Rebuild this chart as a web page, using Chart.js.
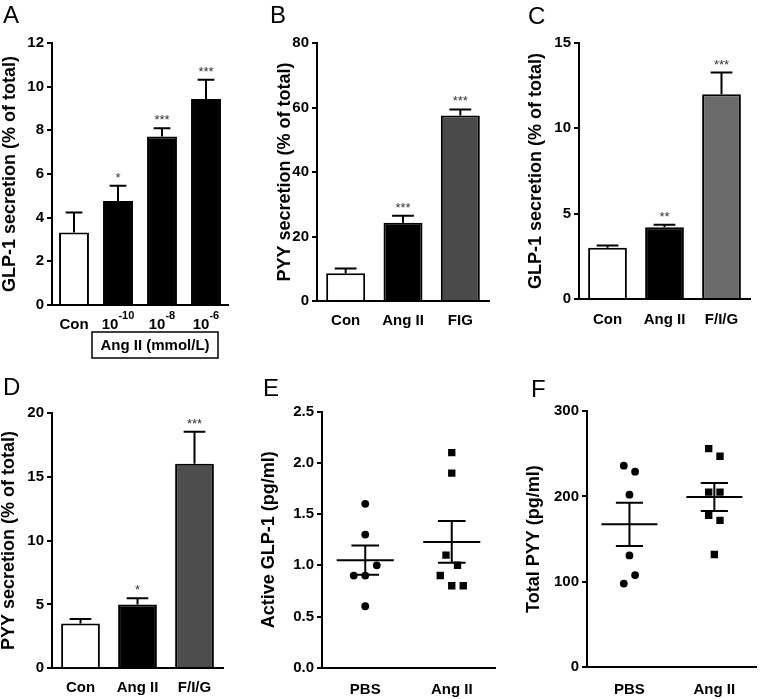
<!DOCTYPE html>
<html>
<head>
<meta charset="utf-8">
<script src="https://cdn.jsdelivr.net/npm/chart.js@4.4.1/dist/chart.umd.min.js"></script>
<style>
body{margin:0;background:#fff;}
#wrap{position:relative;width:762px;height:699px;}
#wrap canvas{position:absolute;left:0;top:0;}
</style>
</head>
<body>
<div id="wrap">
<canvas id="cA" width="762" height="699"></canvas>
<canvas id="cB" width="762" height="699"></canvas>
<canvas id="cC" width="762" height="699"></canvas>
<canvas id="cD" width="762" height="699"></canvas>
<canvas id="cE" width="762" height="699"></canvas>
<canvas id="cF" width="762" height="699"></canvas>
</div>
<script>
// A: GLP-1 secretion, Ang II doses
var catsA = ['Con', '10^-10', '10^-8', '10^-6'];
var meanA = [3.32, 4.76, 7.72, 9.43];
var semA = [0.92, 0.7, 0.38, 0.89];
var starsA = ['', '*', '***', '***'];
var ticksA = [0, 2, 4, 6, 8, 10, 12];

// B: PYY secretion
var catsB = ['Con', 'Ang II', 'FIG'];
var meanB = [8.6, 24.3, 57.5];
var semB = [1.5, 2.1, 1.9];
var starsB = ['', '***', '***'];
var ticksB = [0, 20, 40, 60, 80];

// C: GLP-1 secretion
var catsC = ['Con', 'Ang II', 'F/I/G'];
var meanC = [3.0, 4.2, 12.0];
var semC = [0.13, 0.15, 1.27];
var starsC = ['', '**', '***'];
var ticksC = [0, 5, 10, 15];

// D: PYY secretion
var catsD = ['Con', 'Ang II', 'F/I/G'];
var meanD = [3.5, 5.0, 16.0];
var semD = [0.35, 0.48, 2.5];
var starsD = ['', '*', '***'];
var ticksD = [0, 5, 10, 15, 20];

// E: active GLP-1, individual animals
var groupsE = ['PBS', 'Ang II'];
var pbsE = [1.6, 1.3, 0.9, 0.9, 1.0, 0.6];
var angE = [2.1, 1.9, 1.1, 1.0, 0.9, 0.8, 0.8];
var ticksE = [0, 0.5, 1.0, 1.5, 2.0, 2.5];

// F: total PYY, individual animals
var groupsF = ['PBS', 'Ang II'];
var pbsF = [236, 229, 202, 131, 98, 108];
var angF = [256, 247, 205, 205, 178, 172, 132];
var ticksF = [0, 100, 200, 300];

var FONT = "'Liberation Sans', Arial, Helvetica, sans-serif";
var XH = 30;
Chart.defaults.font.family = FONT;
Chart.defaults.color = '#000';
Chart.defaults.animation = false;
Chart.defaults.plugins.legend.display = false;
Chart.defaults.plugins.tooltip.enabled = false;

// error bars (upward only) + significance stars
var barDeco = {
	id: 'barDeco',
	afterDatasetsDraw: function(chart){
		var ctx = chart.ctx, ds = chart.data.datasets[0];
		var meta = chart.getDatasetMeta(0), ys = chart.scales.y;
		ctx.save();
		ctx.strokeStyle = '#000';
		ctx.lineWidth = 2;
		meta.data.forEach(function(bar, i){
			var top = ys.getPixelForValue(ds.data[i] + ds.sem[i]);
			var half = bar.width * 0.28;
			ctx.beginPath();
			ctx.moveTo(bar.x, bar.y);
			ctx.lineTo(bar.x, top);
			ctx.moveTo(bar.x - half, top);
			ctx.lineTo(bar.x + half, top);
			ctx.stroke();
			if (ds.stars[i]) {
				ctx.fillStyle = '#333';
				ctx.font = '13px ' + FONT;
				ctx.textAlign = 'center';
				ctx.textBaseline = 'alphabetic';
				ctx.fillText(ds.stars[i], bar.x, top - 4);
			}
		});
		ctx.restore();
	}
};

// mean +/- SEM lines for the dot plots
var meanSem = {
	id: 'meanSem',
	afterDatasetsDraw: function(chart){
		var ctx = chart.ctx, xs = chart.scales.x, ys = chart.scales.y;
		ctx.save();
		ctx.strokeStyle = '#000';
		ctx.lineWidth = 2;
		chart.data.datasets.forEach(function(ds){
			var v = ds.values, n = v.length;
			var m = v.reduce(function(a, b){ return a + b; }, 0) / n;
			var ss = v.reduce(function(a, b){ return a + (b - m) * (b - m); }, 0);
			var sem = Math.sqrt(ss / (n - 1)) / Math.sqrt(n);
			var g = ds.group;
			var yM = ys.getPixelForValue(m), yH = ys.getPixelForValue(m + sem), yL = ys.getPixelForValue(m - sem);
			ctx.beginPath();
			ctx.moveTo(xs.getPixelForValue(g - 0.33), yM);
			ctx.lineTo(xs.getPixelForValue(g + 0.33), yM);
			ctx.moveTo(xs.getPixelForValue(g), yH);
			ctx.lineTo(xs.getPixelForValue(g), yL);
			ctx.moveTo(xs.getPixelForValue(g - 0.16), yH);
			ctx.lineTo(xs.getPixelForValue(g + 0.16), yH);
			ctx.moveTo(xs.getPixelForValue(g - 0.16), yL);
			ctx.lineTo(xs.getPixelForValue(g + 0.16), yL);
			ctx.stroke();
		});
		ctx.restore();
	}
};

// panel letter, plus the A-specific x labels and dose box
var extras = {
	id: 'extras',
	afterDraw: function(chart, args, o){
		var ctx = chart.ctx;
		ctx.save();
		ctx.fillStyle = '#000';
		ctx.textBaseline = 'alphabetic';
		ctx.font = '24px ' + FONT;
		ctx.textAlign = 'left';
		ctx.fillText(o.letter, o.lx, o.ly);
		if (o.powLabels) {
			var xs = chart.scales.x, y0 = xs.top;
			chart.data.labels.forEach(function(lab, i){
				var parts = lab.split('^');
				var cx = xs.getPixelForValue(i);
				ctx.font = 'bold 15px ' + FONT;
				var w1 = ctx.measureText(parts[0]).width, w2 = 0;
				if (parts[1]) {
					ctx.font = 'bold 11px ' + FONT;
					w2 = ctx.measureText(parts[1]).width;
				}
				var x0 = cx - (w1 + w2) / 2;
				ctx.font = 'bold 15px ' + FONT;
				ctx.fillText(parts[0], x0, y0 + 24);
				if (parts[1]) {
					ctx.font = 'bold 11px ' + FONT;
					ctx.fillText(parts[1], x0 + w1, y0 + 14);
				}
			});
			var b = o.box;
			ctx.strokeStyle = '#000';
			ctx.lineWidth = 1.5;
			ctx.strokeRect(b.x, b.y, b.w, b.h);
			ctx.font = 'bold 15px ' + FONT;
			ctx.textAlign = 'center';
			ctx.fillText(b.text, b.x + b.w / 2, b.y + 18);
		}
		ctx.restore();
	}
};

// row-wise spread of dots that would overlap (data order kept left to right)
function spread(vals, group, tol, slot){
	var idx = vals.map(function(v, i){ return i; }).sort(function(a, b){ return vals[b] - vals[a]; });
	var rows = [], cur = null;
	idx.forEach(function(i){
		if (cur && vals[cur[0]] - vals[i] < tol) cur.push(i);
		else { cur = [i]; rows.push(cur); }
	});
	var pts = [];
	rows.forEach(function(r){
		r.sort(function(a, b){ return a - b; });
		r.forEach(function(i, k){
			pts[i] = {x: group + (k - (r.length - 1) / 2) * slot, y: vals[i]};
		});
	});
	return pts;
}

function yAxis(ticks, title, width, fmt){
	return {
		min: ticks[0],
		max: ticks[ticks.length - 1],
		afterBuildTicks: function(s){ s.ticks = ticks.map(function(v){ return {value: v}; }); },
		afterFit: function(s){ s.width = width; },
		ticks: {font: {size: 15, weight: 'bold'}, padding: 3, color: '#000',
			callback: fmt || function(v){ return v; }},
		grid: {drawOnChartArea: false, color: '#000', lineWidth: 2, tickLength: 5},
		border: {color: '#000', width: 2},
		title: {display: true, text: title, font: {size: 18, weight: 'bold'}, padding: 0, color: '#000'}
	};
}

// g: axis box in page pixels, titleX = centre of the rotated y title
function pads(g){
	return {left: g.titleX - 10.8, top: g.top, right: 762 - g.right, bottom: 699 - g.bottom - XH};
}

function barPanel(id, g, cats, means, sems, stars, colors, ticks, title, letter, extra){
	var p = pads(g);
	var ex = {letter: letter, lx: g.lx, ly: g.ly};
	if (extra) { for (var k in extra) ex[k] = extra[k]; }
	return new Chart(document.getElementById(id), {
		type: 'bar',
		data: {
			labels: cats,
			datasets: [{
				data: means,
				sem: sems,
				stars: stars,
				backgroundColor: colors,
				borderColor: '#000',
				borderWidth: 2,
				barPercentage: 0.68,
				categoryPercentage: 1
			}]
		},
		options: {
			responsive: false,
			devicePixelRatio: 1,
			layout: {padding: p},
			scales: {
				x: {
					afterFit: function(s){ s.height = XH; },
					ticks: {display: !(extra && extra.powLabels), font: {size: 15, weight: 'bold'}, padding: g.xpad, color: '#000'},
					grid: {display: false},
					border: {color: '#000', width: 2}
				},
				y: yAxis(ticks, title, g.left - p.left)
			},
			plugins: {extras: ex}
		},
		plugins: [barDeco, extras]
	});
}

function dotPanel(id, g, groups, a, b, ticks, title, letter, fmt){
	var p = pads(g);
	var yMax = ticks[ticks.length - 1];
	return new Chart(document.getElementById(id), {
		type: 'scatter',
		data: {
			datasets: [{
				data: spread(a, 1, yMax * 0.043, 0.133),
				values: a, group: 1,
				pointStyle: 'circle', pointRadius: 3.9, pointBorderWidth: 0,
				backgroundColor: '#000', borderColor: '#000'
			}, {
				data: spread(b, 2, yMax * 0.043, 0.133),
				values: b, group: 2,
				pointStyle: 'rect', pointRadius: 5.2, pointBorderWidth: 0,
				backgroundColor: '#000', borderColor: '#000'
			}]
		},
		options: {
			responsive: false,
			devicePixelRatio: 1,
			layout: {padding: p},
			scales: {
				x: {
					type: 'linear', min: 0.5, max: 2.5,
					afterBuildTicks: function(s){ s.ticks = [{value: 1}, {value: 2}]; },
					afterFit: function(s){ s.height = XH; },
					ticks: {font: {size: 15, weight: 'bold'}, padding: g.xpad, color: '#000',
						callback: function(v){ return groups[v - 1]; }},
					grid: {display: false},
					border: {color: '#000', width: 2}
				},
				y: yAxis(ticks, title, g.left - p.left, fmt)
			},
			plugins: {extras: {letter: letter, lx: g.lx, ly: g.ly}}
		},
		plugins: [meanSem, extras]
	});
}

barPanel('cA', {left: 52, top: 43, right: 228, bottom: 305, titleX: 10.3, lx: 3, ly: 23, xpad: 3},
	catsA, meanA, semA, starsA, ['#fff', '#000', '#000', '#000'], ticksA,
	'GLP-1 secretion (% of total)', 'A',
	{powLabels: true, box: {x: 92, y: 332, w: 126, h: 26, text: 'Ang II (mmol/L)'}});

barPanel('cB', {left: 317, top: 43, right: 489, bottom: 301, titleX: 285.5, lx: 270, ly: 23, xpad: 3},
	catsB, meanB, semB, starsB, ['#fff', '#000', '#4a4a4a'], ticksB,
	'PYY secretion (% of total)', 'B');

barPanel('cC', {left: 579, top: 43, right: 750, bottom: 299, titleX: 536, lx: 528, ly: 24, xpad: 3.7},
	catsC, meanC, semC, starsC, ['#fff', '#000', '#6b6b6b'], ticksC,
	'GLP-1 secretion (% of total)', 'C');

barPanel('cD', {left: 52, top: 412.7, right: 223, bottom: 668.3, titleX: 9.2, lx: 3, ly: 395, xpad: 2.7},
	catsD, meanD, semD, starsD, ['#fff', '#000', '#4d4d4d'], ticksD,
	'PYY secretion (% of total)', 'D');

dotPanel('cE', {left: 322, top: 411.7, right: 495, bottom: 667.7, titleX: 268.8, lx: 263, ly: 396, xpad: 5},
	groupsE, pbsE, angE, ticksE, 'Active GLP-1 (pg/ml)', 'E',
	function(v){ return v.toFixed(1); });

dotPanel('cF', {left: 587, top: 411, right: 760, bottom: 667.3, titleX: 534, lx: 531, ly: 397, xpad: 5.4},
	groupsF, pbsF, angF, ticksF, 'Total PYY (pg/ml)', 'F');
</script>
</body>
</html>
